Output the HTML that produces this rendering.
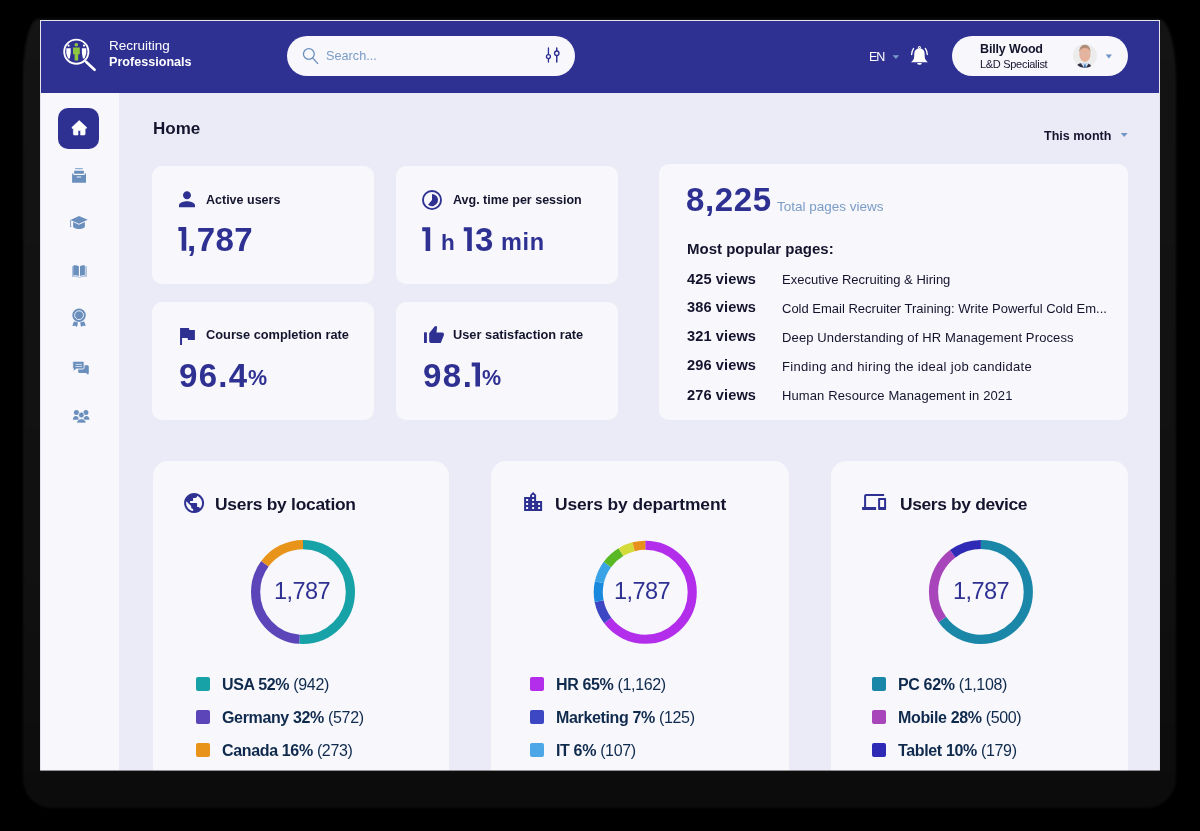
<!DOCTYPE html>
<html><head><meta charset="utf-8">
<style>
*{margin:0;padding:0;box-sizing:border-box}
html,body{width:1200px;height:831px;overflow:hidden;background:#000}
body{position:relative;font-family:"Liberation Sans",sans-serif}
.a{position:absolute;white-space:nowrap}
#shadow{position:absolute;left:22.5px;top:19px;width:1153px;height:788.5px;border-radius:15px 17px 30px 28px / 60px 60px 30px 30px;background:linear-gradient(#141414,#111 70%,#0c0c0c);filter:blur(1px)}
#clip{position:absolute;left:0;top:0;width:1200px;height:771px;overflow:hidden}
#app{position:absolute;left:40px;top:20px;width:1120px;height:751px;background:#EBEBF7;border:1px solid #E3E4EE;border-bottom:none}
#hdr{position:absolute;left:41px;top:21px;width:1118px;height:72px;background:#2E3192}
#side{position:absolute;left:41px;top:93px;width:78px;height:678px;background:#F7F7FC}
.card{position:absolute;background:#F7F7FC;border-radius:10px}
.t{line-height:1;will-change:transform}
.dk{color:#15142E}
.bl{color:#2E3192}
.lb{color:#7A9CC6}
.wh{color:#fff}
.lg{color:#0F2A4C}
.sq{position:absolute;width:14px;height:14px;border-radius:2px}
#ov{position:absolute;left:0;top:0}
</style></head><body>
<div id="shadow"></div>
<div id="clip">
<div id="app"></div>
<div id="hdr"></div>
<div id="side"></div>
<div class="a" style="left:287px;top:36px;width:288px;height:40px;border-radius:20px;background:#F7F7FC"></div>
<div class="a" style="left:952px;top:36px;width:176px;height:40px;border-radius:20px;background:#F7F7FC"></div>
<div class="a" style="left:58px;top:108px;width:40.5px;height:40.5px;border-radius:10px;background:#2E3192"></div>
<div class="card" style="left:152px;top:166px;width:222px;height:118px"></div>
<div class="card" style="left:396px;top:166px;width:222px;height:118px"></div>
<div class="card" style="left:152px;top:302px;width:222px;height:118px"></div>
<div class="card" style="left:396px;top:302px;width:222px;height:118px"></div>
<div class="card" style="left:659px;top:164px;width:469px;height:255.5px"></div>
<div class="card" style="left:153px;top:461px;width:296px;height:340px;border-radius:15px"></div>
<div class="card" style="left:491px;top:461px;width:298px;height:340px;border-radius:15px"></div>
<div class="card" style="left:831px;top:461px;width:297px;height:340px;border-radius:15px"></div>

<svg id="ov" width="1200" height="771" viewBox="0 0 1200 771">
<circle cx="76.3" cy="51.7" r="12.1" fill="none" stroke="#fff" stroke-width="1.9"/>
<line x1="86.2" y1="62" x2="94.6" y2="69.8" stroke="#fff" stroke-width="2.6" stroke-linecap="round"/>
<circle cx="76.3" cy="44.8" r="1.8" fill="#8DC63F"/>
<path d="M73 47.4h6.8v6.9h-1.6v6.2h-3.6v-6.2H73z" fill="#8DC63F"/>
<path d="M66.3 48.2h4.4v4.8l-1 5.4h-1.6l-1.8-4.8z" fill="#fff"/>
<path d="M86.3 48.2h-4.4v4.8l1 5.4h1.6l1.8-4.8z" fill="#fff"/>
<circle cx="68.6" cy="45.6" r="1.1" fill="#fff"/>
<circle cx="84" cy="45.6" r="1.1" fill="#fff"/>
<circle cx="308.85" cy="54" r="5.4" fill="none" stroke="#6A8FBD" stroke-width="1.3"/>
<line x1="312.8" y1="58.1" x2="317.6" y2="63.4" stroke="#6A8FBD" stroke-width="1.35" stroke-linecap="round"/>
<line x1="548.44" y1="48" x2="548.44" y2="62" stroke="#2E3192" stroke-width="1.3" stroke-linecap="round"/>
<line x1="556.76" y1="48" x2="556.76" y2="62" stroke="#2E3192" stroke-width="1.5" stroke-linecap="round"/>
<circle cx="548.44" cy="56.57" r="2.0" fill="#F7F7FC" stroke="#2E3192" stroke-width="1.3"/>
<circle cx="556.76" cy="53.25" r="2.2" fill="#F7F7FC" stroke="#2E3192" stroke-width="1.4"/>
<path d="M892.6 55.2h6.6l-3.3 3.8z" fill="#7A9CC6"/>
<path d="M919.45 48.6C916.2 48.6 914.3 50.6 914.3 53.6L914.1 57.5C913.9 59.5 912.6 60.8 911 62.2L927.9 62.2C926.3 60.8 925 59.5 924.8 57.5L924.6 53.6C924.6 50.6 922.7 48.6 919.45 48.6Z" fill="#fff"/>
<circle cx="919.45" cy="47.6" r="1.5" fill="#fff"/><circle cx="919.45" cy="47.6" r="0.5" fill="#2E3192"/>
<path d="M917.1 62.9h4.7a2.35 1.9 0 0 1-4.7 0z" fill="#fff"/>
<path d="M913.6 48.4Q911.8 50.8 911.6 54.5M925.3 48.4Q927.1 50.8 927.3 54.5" stroke="#fff" stroke-width="1.3" fill="none" stroke-linecap="round"/>
<defs><clipPath id="avc"><circle cx="1084.9" cy="55.8" r="12"/></clipPath></defs>
<g clip-path="url(#avc)">
<rect x="1072" y="43" width="26" height="26" fill="#ECECEC"/>
<path d="M1075.5 69c0.5-3.5 2.6-5.2 5-5.8l3.4 0.4 3.4-0.4c2.4 0.6 4.5 2.3 5 5.8z" fill="#2C2F42"/>
<path d="M1080.8 63.2l4.1 5.8 4.1-5.8-4.1-0.6z" fill="#C9D9EC"/>
<path d="M1084.2 64.5h1.4l0.4 4.5h-2.2z" fill="#3C70B0"/>
<ellipse cx="1084.9" cy="54.6" rx="5.6" ry="7.4" fill="#E5B29B"/>
<path d="M1079.3 52.5c-0.3-5 2.2-7.8 5.6-7.8s5.9 2.8 5.6 7.8c-0.5-2.6-2.4-4.6-5.6-4.6s-5.1 2-5.6 4.6z" fill="#B08C74"/>
<path d="M1080.3 53.8h3.6M1086 53.8h3.6" stroke="#C8C8D0" stroke-width="0.6"/>
</g>
<path d="M1105.7 54.4h6.3l-3.15 4.1z" fill="#6E95C4"/>
<path d="M79.2 120.5L72 127.3Q71.5 128.4 72.7 128.6H73.4V134.1Q73.4 135 74.3 135H78V130.6H80.6V135H84.2Q85.1 135 85.1 134.1V128.6H85.8Q87 128.4 86.5 127.3Z" fill="#fff" stroke="#fff" stroke-width="0.6" stroke-linejoin="round"/>
<rect x="75" y="168" width="7.8" height="1.3" rx="0.4" fill="#8FAFD6"/>
<rect x="74.1" y="170.7" width="9.8" height="3.1" rx="0.4" fill="#6A8FBD"/>
<path d="M72.1 173.6h1.3v1.3h11.3v-1.3h1.3V182.8H72.1z" fill="#6A8FBD"/>
<rect x="76.7" y="176.3" width="4.6" height="1.5" rx="0.4" fill="#C2D0E6"/>
<path d="M79 216L87.7 219.8 79 223.7 70.4 219.9z" fill="#6A8FBD"/>
<path d="M73.1 222.1v4.2c0 1.7 2.6 2.7 5.9 2.7s5.9-1 5.9-2.7v-4.2L79 224.8z" fill="#6A8FBD"/>
<path d="M70.55 220.2v5.6" stroke="#6A8FBD" stroke-width="0.8"/><circle cx="70.55" cy="226.2" r="0.75" fill="#6A8FBD"/>
<path d="M72 266.2h1.6v10.3H72z" fill="#A9C0DE"/><path d="M85.3 266.2h1.6v10.3h-1.6z" fill="#A9C0DE"/>
<path d="M73.3 265.4c2.2-0.4 4.2 0 5.6 0.9v9.7c-1.6-0.7-3.6-0.9-5.6-0.6z" fill="#6A8FBD"/>
<path d="M84.9 265.4c-2-0.4-3.6 0-4.9 0.9v9.7c1.4-0.7 3-0.9 4.9-0.6z" fill="#6A8FBD"/>
<path d="M72.2 276.4c2.4-0.3 4.9 0 7.2 1 2.3-1 4.8-1.3 7.3-1" stroke="#A9C0DE" stroke-width="1" fill="none"/>
<circle cx="79.05" cy="315.2" r="6.7" fill="#6A8FBD"/>
<circle cx="79.05" cy="315.2" r="4.4" fill="none" stroke="#F7F7FC" stroke-width="0.9"/>
<circle cx="79.05" cy="315.2" r="3.3" fill="#6A8FBD"/>
<path d="M73.9 321.4L72.3 326L75.2 325.7L77 326.9L78 322.4z" fill="#6A8FBD"/>
<path d="M84.2 321.4L85.8 326L82.9 325.7L81.1 326.9L80.1 322.4z" fill="#6A8FBD"/>
<path d="M78.2 365.2h9.3c0.7 0 1.3 0.6 1.3 1.3v6.2l-0.6 2.1-2.2-1.8h-6.5c-0.7 0-1.3-0.6-1.3-1.3z" fill="#6A8FBD"/>
<path d="M73.8 361.2h9.2c0.6 0 1.1 0.5 1.1 1.1v5.6c0 0.6-0.5 1.1-1.1 1.1h-6.6l-3.2 2.6v-2.6h0.6c-0.6 0-1.1-0.5-1.1-1.1v-5.6c0-0.6 0.5-1.1 1.1-1.1z" fill="#6A8FBD" stroke="#F7F7FC" stroke-width="0.9"/>
<path d="M75.5 364.4h6.5M75.5 366.5h6.5" stroke="#F7F7FC" stroke-width="0.7"/>
<circle cx="76.4" cy="412.4" r="2.5" fill="#6A8FBD"/><circle cx="85.9" cy="412.4" r="2.5" fill="#6A8FBD"/>
<path d="M72.9 419.8c0-2.4 1.3-3.7 2.9-3.7s2.9 1.3 2.9 3.7z" fill="#6A8FBD"/>
<path d="M83.6 419.8c0-2.4 1.3-3.7 2.9-3.7s2.9 1.3 2.9 3.7z" fill="#6A8FBD"/>
<circle cx="81.4" cy="415" r="2.9" fill="#6A8FBD" stroke="#F7F7FC" stroke-width="0.8"/>
<path d="M76.7 423.1c0-2.6 2-4.3 4.7-4.3s4.7 1.7 4.7 4.3z" fill="#6A8FBD" stroke="#F7F7FC" stroke-width="0.8"/>
<path d="M1120.8 132.9h6.8l-3.4 4.1z" fill="#6E95C4"/>
<path transform="translate(175 187.25)" d="M12 12c2.21 0 4-1.79 4-4s-1.79-4-4-4-4 1.79-4 4 1.79 4 4 4zm0 2c-2.67 0-8 1.34-8 4v2h16v-2c0-2.66-5.33-4-8-4z" fill="#2E3192"/>
<circle cx="432" cy="200" r="9.05" fill="none" stroke="#2E3192" stroke-width="1.85"/>
<path d="M432 200V193.9A6.1 6.1 0 1 1 428.08 204.67Z" fill="#2E3192"/>
<path transform="translate(175.1 324.1) scale(0.99)" d="M14.4 6L14 4H5v17h2v-7h5.6l.4 2h7V6z" fill="#2E3192"/>
<rect x="424" y="332.2" width="2.9" height="10.9" rx="0.6" fill="#2E3192"/>
<path d="M429.2 333.2L434.6 326.6Q436.2 325.1 437.1 326.9L436.5 332.4H442.2Q444.4 332.6 443.9 335.2L441.2 341.9Q440.8 343.1 439.6 343.1H431Q429.2 343.1 429.2 341.3Z" fill="#2E3192"/>
<path transform="translate(182.1 491.05)" d="M12 2C6.48 2 2 6.48 2 12s4.48 10 10 10 10-4.48 10-10S17.52 2 12 2zm-1 17.93c-3.95-.49-7-3.85-7-7.93 0-.62.08-1.21.21-1.79L9 15v1c0 1.1.9 2 2 2v1.93zm6.9-2.54c-.26-.81-1-1.39-1.9-1.39h-1v-3c0-.55-.45-1-1-1H8v-2h2c.55 0 1-.45 1-1V7h2c1.1 0 2-.9 2-2v-.41c2.930 1.19 5 4.06 5 7.41 0 2.08-.8 3.97-2.1 5.39z" fill="#2E3192"/>
<path transform="translate(521.1 490.1)" d="M15 11V5l-3-3-3 3v2H3v14h18V11h-6zm-8 8H5v-2h2v2zm0-4H5v-2h2v2zm0-4H5V9h2v2zm6 8h-2v-2h2v2zm0-4h-2v-2h2v2zm0-4h-2V9h2v2zm0-4h-2V5h2v2zm6 12h-2v-2h2v2zm0-4h-2v-2h2v2z" fill="#2E3192"/>
<path transform="translate(862.1 490.1)" d="M4 6h18V4H4c-1.1 0-2 .9-2 2v11H0v3h14v-3H4V6zm19 2h-6c-.55 0-1 .45-1 1v10c0 .55.45 1 1 1h6c.55 0 1-.45 1-1V9c0-.55-.45-1-1-1zm-1 9h-4v-7h4v7z" fill="#2E3192"/>
<g transform="translate(303 592) rotate(-90)" fill="none" stroke-width="9.2">
<circle r="47.4" stroke="#17A2A8" stroke-dasharray="152.22 1000" stroke-dashoffset="0.00"/>
<circle r="47.4" stroke="#5B45B9" stroke-dasharray="100.93 1000" stroke-dashoffset="-152.22"/>
<circle r="47.4" stroke="#E8931A" stroke-dasharray="44.67 1000" stroke-dashoffset="-253.15"/>
</g>
<g transform="translate(645.25 592.25) rotate(-90)" fill="none" stroke-width="9.1">
<circle r="47.0" stroke="#B22EEA" stroke-dasharray="190.72 1000" stroke-dashoffset="0.00"/>
<circle r="47.0" stroke="#3D47C4" stroke-dasharray="21.41 1000" stroke-dashoffset="-190.72"/>
<circle r="47.0" stroke="#1A88DD" stroke-dasharray="19.11 1000" stroke-dashoffset="-212.13"/>
<circle r="47.0" stroke="#3AA3E6" stroke-dasharray="19.61 1000" stroke-dashoffset="-231.24"/>
<circle r="47.0" stroke="#5AB825" stroke-dasharray="18.46 1000" stroke-dashoffset="-250.85"/>
<circle r="47.0" stroke="#D4DC3A" stroke-dasharray="13.70 1000" stroke-dashoffset="-269.31"/>
<circle r="47.0" stroke="#E8911A" stroke-dasharray="12.30 1000" stroke-dashoffset="-283.01"/>
</g>
<g transform="translate(980.9 591.9) rotate(-90)" fill="none" stroke-width="9.2">
<circle r="47.4" stroke="#1A87A8" stroke-dasharray="193.58 1000" stroke-dashoffset="0.00"/>
<circle r="47.4" stroke="#A845BB" stroke-dasharray="73.63 1000" stroke-dashoffset="-193.58"/>
<circle r="47.4" stroke="#2E2AB5" stroke-dasharray="30.61 1000" stroke-dashoffset="-267.21"/>
</g>
<path d="M178.4 227.1H186.25V250.75H181.65V231.1H178.4Z" fill="#2E3192"/>
<path d="M422.2 227.2H430.2V250.9H425.59999999999997V231.2H422.2Z" fill="#2E3192"/>
<path d="M463.8 227.2H471.8V250.9H467.2V231.2H463.8Z" fill="#2E3192"/>
<path d="M471.7 362.6H480V386.5H475.4V366.6H471.7Z" fill="#2E3192"/>
</svg>
<div class="a t wh" style="left:109px;top:39.07px;font-size:13.5px">Recruiting</div>
<div class="a t wh" style="left:109px;top:55.83px;font-size:12.6px;font-weight:bold">Professionals</div>
<div class="a t lb" style="left:326.2px;top:49.75px;font-size:12.7px">Search...</div>
<div class="a t wh" style="left:868.5px;top:50.92px;font-size:12.5px;letter-spacing:-1px">EN</div>
<div class="a t dk" style="left:980.2px;top:43.22px;font-size:12.5px;font-weight:bold;letter-spacing:-0.15px">Billy Wood</div>
<div class="a t dk" style="left:980.4px;top:59.19px;font-size:11px;letter-spacing:-0.3px">L&amp;D Specialist</div>
<div class="a t dk" style="left:152.5px;top:119.86px;font-size:17px;font-weight:bold">Home</div>
<div class="a t dk" style="left:1043.6px;top:129.52px;font-size:12.5px;font-weight:bold">This month</div>
<div class="a t dk" style="left:206px;top:193.92px;font-size:12.5px;font-weight:bold">Active users</div>
<div class="a t bl" style="left:187.4px;top:223.07px;font-size:33px;font-weight:bold;letter-spacing:0.5px">,787</div>
<div class="a t dk" style="left:453px;top:193.92px;font-size:12.5px;font-weight:bold">Avg. time per session</div>
<div class="a t bl" style="left:441.0px;top:231.95px;font-size:22.5px;font-weight:bold">h</div>
<div class="a t bl" style="left:475.2px;top:223.07px;font-size:33px;font-weight:bold">3</div>
<div class="a t bl" style="left:500.9px;top:231.11px;font-size:23.5px;font-weight:bold;letter-spacing:0.7px">min</div>
<div class="a t dk" style="left:205.8px;top:329.16px;font-size:12.8px;font-weight:bold">Course completion rate</div>
<div class="a t dk" style="left:453.3px;top:329.16px;font-size:12.8px;font-weight:bold">User satisfaction rate</div>
<div class="a t bl" style="left:178.5px;top:358.57px;font-size:33px;font-weight:bold;letter-spacing:1.3px">96.4</div>
<div class="a t bl" style="left:247.6px;top:368.30px;font-size:21.5px;font-weight:bold">%</div>
<div class="a t bl" style="left:422.5px;top:358.57px;font-size:33px;font-weight:bold;letter-spacing:1.5px">98.</div>
<div class="a t bl" style="left:481.5px;top:368.30px;font-size:21.5px;font-weight:bold">%</div>
<div class="a t bl" style="left:685.7px;top:183.32px;font-size:33px;font-weight:bold;letter-spacing:0.6px">8,225</div>
<div class="a t lb" style="left:776.5px;top:199.57px;font-size:13.5px">Total pages views</div>
<div class="a t dk" style="left:686.7px;top:240.60px;font-size:15px;font-weight:bold">Most popular pages:</div>
<div class="a t dk" style="left:686.7px;top:271.64px;font-size:14.6px;font-weight:bold;letter-spacing:0.1px">425 views</div>
<div class="a t dk" style="left:781.7px;top:273.00px;font-size:13px">Executive Recruiting &amp; Hiring</div>
<div class="a t dk" style="left:686.7px;top:300.44px;font-size:14.6px;font-weight:bold;letter-spacing:0.1px">386 views</div>
<div class="a t dk" style="left:781.7px;top:301.80px;font-size:13px">Cold Email Recruiter Training: Write Powerful Cold Em...</div>
<div class="a t dk" style="left:686.7px;top:329.24px;font-size:14.6px;font-weight:bold;letter-spacing:0.1px">321 views</div>
<div class="a t dk" style="left:781.7px;top:330.60px;font-size:13px;letter-spacing:0.13px">Deep Understanding of HR Management Process</div>
<div class="a t dk" style="left:686.7px;top:358.44px;font-size:14.6px;font-weight:bold;letter-spacing:0.1px">296 views</div>
<div class="a t dk" style="left:781.7px;top:359.80px;font-size:13px;letter-spacing:0.31px">Finding and hiring the ideal job candidate</div>
<div class="a t dk" style="left:686.7px;top:387.64px;font-size:14.6px;font-weight:bold;letter-spacing:0.1px">276 views</div>
<div class="a t dk" style="left:781.7px;top:389.00px;font-size:13px;letter-spacing:0.11px">Human Resource Management in 2021</div>
<div class="a t dk" style="left:214.8px;top:495.57px;font-size:17.4px;font-weight:bold;letter-spacing:-0.25px">Users by location</div>
<div class="a t dk" style="left:554.8px;top:495.57px;font-size:17.4px;font-weight:bold;letter-spacing:-0.1px">Users by department</div>
<div class="a t dk" style="left:899.8px;top:495.57px;font-size:17.4px;font-weight:bold;letter-spacing:-0.35px">Users by device</div>
<div class="a t bl" style="left:242.3px;width:120px;text-align:center;top:579.91px;font-size:23.5px;letter-spacing:-0.6px">1,787</div>
<div class="a t bl" style="left:582px;width:120px;text-align:center;top:579.91px;font-size:23.5px;letter-spacing:-0.6px">1,787</div>
<div class="a t bl" style="left:920.6px;width:120px;text-align:center;top:579.91px;font-size:23.5px;letter-spacing:-0.6px">1,787</div>
<div class="sq" style="left:196px;top:677px;background:#17A2A8"></div>
<div class="a t lg" style="left:221.8px;top:677.26px;font-size:16px;letter-spacing:-0.35px"><b>USA 52%</b> (942)</div>
<div class="sq" style="left:196px;top:710px;background:#5B45B9"></div>
<div class="a t lg" style="left:221.8px;top:709.76px;font-size:16px;letter-spacing:-0.35px"><b>Germany 32%</b> (572)</div>
<div class="sq" style="left:196px;top:743px;background:#E8931A"></div>
<div class="a t lg" style="left:221.8px;top:742.76px;font-size:16px;letter-spacing:-0.35px"><b>Canada 16%</b> (273)</div>
<div class="sq" style="left:530px;top:677px;background:#B22EEA"></div>
<div class="a t lg" style="left:555.7px;top:677.26px;font-size:16px;letter-spacing:-0.35px"><b>HR 65%</b> (1,162)</div>
<div class="sq" style="left:530px;top:710px;background:#3D47C4"></div>
<div class="a t lg" style="left:555.7px;top:709.76px;font-size:16px;letter-spacing:-0.35px"><b>Marketing 7%</b> (125)</div>
<div class="sq" style="left:530px;top:743px;background:#4DA6E6"></div>
<div class="a t lg" style="left:555.7px;top:742.76px;font-size:16px;letter-spacing:-0.35px"><b>IT 6%</b> (107)</div>
<div class="sq" style="left:872px;top:677px;background:#1A87A8"></div>
<div class="a t lg" style="left:897.7px;top:677.26px;font-size:16px;letter-spacing:-0.35px"><b>PC 62%</b> (1,108)</div>
<div class="sq" style="left:872px;top:710px;background:#A845BB"></div>
<div class="a t lg" style="left:897.7px;top:709.76px;font-size:16px;letter-spacing:-0.35px"><b>Mobile 28%</b> (500)</div>
<div class="sq" style="left:872px;top:743px;background:#2E2AB5"></div>
<div class="a t lg" style="left:897.7px;top:742.76px;font-size:16px;letter-spacing:-0.35px"><b>Tablet 10%</b> (179)</div>
<div class="a" style="left:40px;top:770px;width:1120px;height:1px;background:rgba(0,0,0,0.4)"></div>
</div>
</body></html>
